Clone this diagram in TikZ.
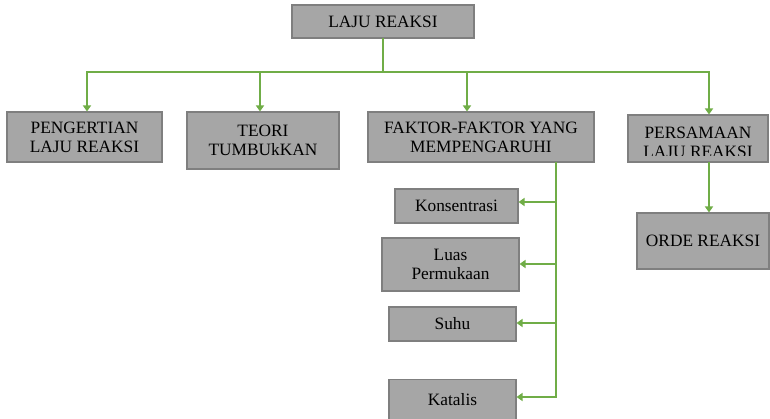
\documentclass[tikz,border=0pt]{standalone}
\usepackage{fontspec}
\setmainfont{Liberation Serif}
\usepackage{xcolor}
\definecolor{lrgreen}{RGB}{112, 173, 71}
\definecolor{lrfill}{RGB}{166, 166, 166}
\definecolor{lrborder}{RGB}{127, 127, 127}
\usetikzlibrary{calc, arrows.meta}

\begin{document}
\begin{tikzpicture}[x=0.75pt, y=-0.75pt, >={Triangle[width=6pt, length=4.5pt]},
    kotak/.style={draw=lrborder, line width=0.8pt, fill=lrfill, align=center,
        inner sep=0pt, font=\fontsize{13}{14.3}\selectfont},
    ukuran/.style 2 args={minimum width=#1*0.75pt, minimum height=#2*0.75pt},
    garis/.style={draw=lrgreen, line width=1.5pt, line cap=rect},
    panah/.style={garis, ->}]

\useasboundingbox (0,0) rectangle (770,418);

% === Judul ===
\node[kotak, ukuran={182}{33}] (laju) at (383,21.5) {LAJU REAKSI};

% === Baris pertama ===
\node[kotak, ukuran={155}{50}] (pengertian) at (84.5,137) {PENGERTIAN\\LAJU REAKSI};
\node[kotak, ukuran={152}{57}] (teori) at (263,140.5) {TEORI\\TUMBUkKAN};
\node[kotak, ukuran={226}{50}] (faktor) at (481,137) {FAKTOR-FAKTOR YANG\\MEMPENGARUHI};
\node[kotak, ukuran={140}{47}] (persamaan) at (698,138.5) {};
% teks baris kedua terpotong oleh kotak
\begin{scope}
    \clip (persamaan.north west) rectangle ($(persamaan.east)+(0,16.5)$);
    \node[anchor=north, align=center, inner sep=0pt, font=\fontsize{13}{14.3}\selectfont]
        (persamaanteks) at (698,126.5) {PERSAMAAN\\LAJU REAKSI};
\end{scope}

% === Faktor-faktor ===
\node[kotak, ukuran={123}{34}] (konsentrasi) at (456.5,206) {Konsentrasi};
\node[kotak, ukuran={137}{53}] (luas) at (450.5,264.5) {Luas\\Permukaan};
\node[kotak, ukuran={127}{34}] (suhu) at (452.5,324) {Suhu};
\node[kotak, ukuran={127}{40}, anchor=north] (katalis) at (452.5,379) {Katalis};

% === Orde reaksi ===
\node[kotak, ukuran={132}{56}] (orde) at (703,241) {ORDE REAKSI};

% === Garis penghubung ===
\coordinate (bus) at (383,72);
\coordinate (bkiri) at (87,72);
\coordinate (bkanan) at (709,72);
\draw[garis] (laju.south) -- (bus);
\draw[garis] (bkiri) -- (bkanan);
\foreach \bx/\tgt in {87/pengertian, 260/teori, 467/faktor, 709/persamaan} {
    \coordinate (b) at (\bx,72);
    \draw[panah] (b) -- (b |- \tgt.north);
}

% cabang faktor-faktor
\coordinate (spineatas) at (556,0 |- faktor.south);
\coordinate (spinebawah) at (556,397);
\draw[garis] (spineatas) -- (spinebawah);
\foreach \sy/\tgt in {202/konsentrasi, 264/luas, 323/suhu, 397/katalis} {
    \coordinate (s) at (556,\sy);
    \draw[panah] (s) -- (s -| \tgt.east);
}

% persamaan ke orde
\draw[panah] (persamaan.south -| bkanan) -- (orde.north -| bkanan);

\end{tikzpicture}
\end{document}
